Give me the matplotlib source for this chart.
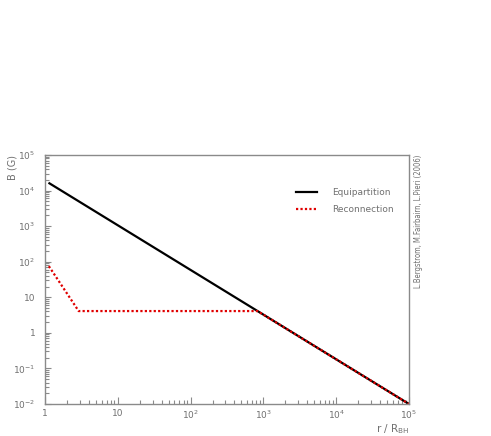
import matplotlib
matplotlib.use("Agg")
import matplotlib.pyplot as plt
from matplotlib.ticker import FixedLocator, FixedFormatter, LogLocator, NullFormatter

# Data (log-log straight segments)
equip_r = [1.15, 1.0e5]
equip_B = [1.6e4, 1.0e-2]
recon_r = [1.13, 2.9, 830.0, 1.0e5]
recon_B = [75.0, 4.1, 4.1, 1.0e-2]

x_ticks = [1, 10, 1e2, 1e3, 1e4, 1e5]
x_labels = ["1", "10", r"$10^{2}$", r"$10^{3}$", r"$10^{4}$", r"$10^{5}$"]
y_ticks = [1e-2, 1e-1, 1, 10, 1e2, 1e3, 1e4, 1e5]
y_labels = [r"$10^{-2}$", r"$10^{-1}$", "1", "10", r"$10^{2}$", r"$10^{3}$", r"$10^{4}$", r"$10^{5}$"]

gray = "#8a8a8a"
txt = "#707070"

fig = plt.figure(figsize=(4.91, 4.36), dpi=100)
ax = fig.add_axes([45 / 491, 1 - 404 / 436, 364 / 491, 249 / 436])

ax.plot(equip_r, equip_B, color="black", linewidth=1.6, label="Equipartition")
ax.plot(recon_r, recon_B, color="#e00000", linewidth=1.6, linestyle=(0, (1, 1)),
        label="Reconnection")

ax.set_xscale("log")
ax.set_yscale("log")
ax.set_xlim(1, 1e5)
ax.set_ylim(1e-2, 1e5)

ax.xaxis.set_major_locator(FixedLocator(x_ticks))
ax.xaxis.set_major_formatter(FixedFormatter(x_labels))
ax.yaxis.set_major_locator(FixedLocator(y_ticks))
ax.yaxis.set_major_formatter(FixedFormatter(y_labels))
ax.xaxis.set_minor_locator(LogLocator(base=10, subs=range(2, 10), numticks=20))
ax.yaxis.set_minor_locator(LogLocator(base=10, subs=range(2, 10), numticks=20))
ax.xaxis.set_minor_formatter(NullFormatter())
ax.yaxis.set_minor_formatter(NullFormatter())

ax.tick_params(which="both", direction="in", colors=gray, labelcolor=txt,
               labelsize=6.5, top=False, right=False, width=0.8)
ax.tick_params(axis="x", which="major", length=5, pad=3.5)
ax.tick_params(axis="x", which="minor", length=3)
ax.tick_params(axis="y", which="major", length=4, pad=7)
ax.tick_params(axis="y", which="minor", length=3)

for s in ax.spines.values():
    s.set_color(gray)
    s.set_linewidth(1.0)

ax.text(-0.09, 1.0, "B (G)", transform=ax.transAxes, rotation=90,
        ha="center", va="top", fontsize=7, color=txt)
ax.text(1.0, -0.072, r"r / R$_{\rm BH}$", transform=ax.transAxes,
        ha="right", va="top", fontsize=7.5, color=txt)
ax.text(1.025, 1.0, "L.Bergstrom, M.Fairbairn, L.Pieri (2006)", transform=ax.transAxes,
        rotation=90, ha="center", va="top", fontsize=5.5, color=txt,
        family=["Liberation Sans Narrow", "DejaVu Sans"], stretch="condensed")

leg = ax.legend(loc="upper left", bbox_to_anchor=(0.668, 0.9), frameon=False,
                fontsize=6.5, handlelength=2.3, handletextpad=1.65, labelspacing=0.85)
for t in leg.get_texts():
    t.set_color(txt)

fig.savefig("out.png", dpi=100)
